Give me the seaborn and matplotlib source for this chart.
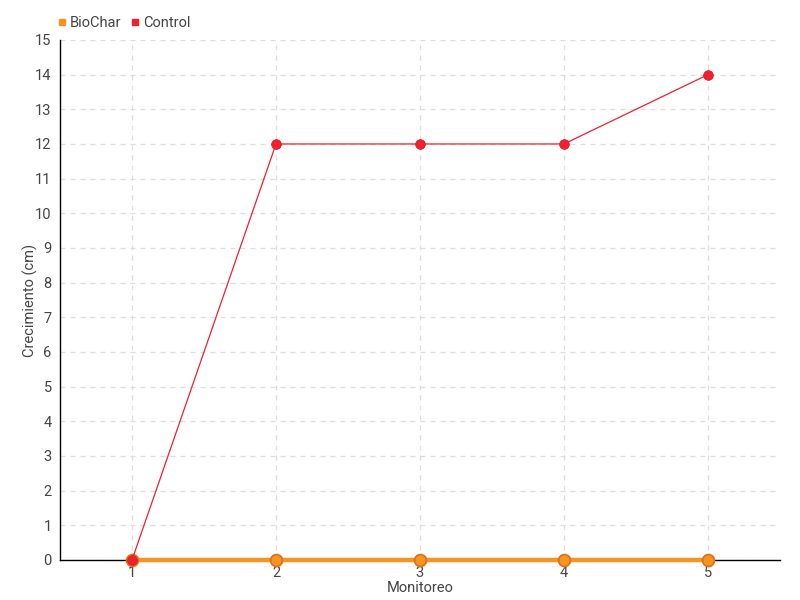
import matplotlib
matplotlib.use('Agg')
import matplotlib.pyplot as plt
from matplotlib.lines import Line2D
import numpy as np
import pandas as pd
import seaborn as sns

monitoreo = [1, 2, 3, 4, 5]
biochar = [0, 0, 0, 0, 0]
control = [0, 12, 12, 12, 14]
y_ticks = list(range(0, 16))

sns.set_style('white')
plt.rcParams['font.family'] = ['Roboto', 'DejaVu Sans']

df = pd.DataFrame({'Monitoreo': monitoreo, 'BioChar': biochar, 'Control': control})

fig = plt.figure(figsize=(8, 6), dpi=100)
ax = fig.add_axes([0.075, 0.0667, 0.9, 0.8667])

sns.lineplot(data=df, x='Monitoreo', y='BioChar', ax=ax, color='#f7931e', linewidth=3.2,
             marker='o', markersize=8.5, markeredgecolor='#d9761a', markeredgewidth=1.3,
             zorder=3, clip_on=False)
sns.lineplot(data=df, x='Monitoreo', y='Control', ax=ax, color='#f0202e', linewidth=0.9,
             marker='o', markersize=7, markeredgecolor='#e8101e', markeredgewidth=0.5,
             zorder=4, clip_on=False)

ax.set_xlim(0.5, 5.5)
ax.set_ylim(0, 15)
ax.set_xticks(monitoreo)
ax.set_yticks(y_ticks)
ax.grid(True, linestyle=(0, (4, 4)), color='#dddddd', linewidth=0.9)
ax.set_axisbelow(True)
for s in ['top', 'right']:
    ax.spines[s].set_visible(False)
for s in ['left', 'bottom']:
    ax.spines[s].set_color('black')
    ax.spines[s].set_linewidth(1)
ax.tick_params(axis='x', direction='out', length=8, color='#555555', labelsize=10.5,
               labelcolor='#444444', pad=-4)
ax.tick_params(axis='y', direction='inout', length=8, color='#555555', labelsize=10.5,
               labelcolor='#444444', pad=2)
ax.set_xlabel('Monitoreo', fontsize=10.5, color='#444444', labelpad=1)
ax.set_ylabel('Crecimiento (cm)', fontsize=10.5, color='#444444', labelpad=-6)
ax.yaxis.set_label_coords(-0.03, 0.5)

handles = [Line2D([], [], marker='s', linestyle='', color='#f7931e', markersize=5),
           Line2D([], [], marker='s', linestyle='', color='#f0202e', markersize=5)]
fig.legend(handles, ['BioChar', 'Control'], loc='upper left', bbox_to_anchor=(0.052, 0.995),
           ncol=2, frameon=False, fontsize=10.5, handletextpad=0.0, columnspacing=0.5,
           labelcolor='#444444', handlelength=1)

fig.savefig('out.png', dpi=100)
